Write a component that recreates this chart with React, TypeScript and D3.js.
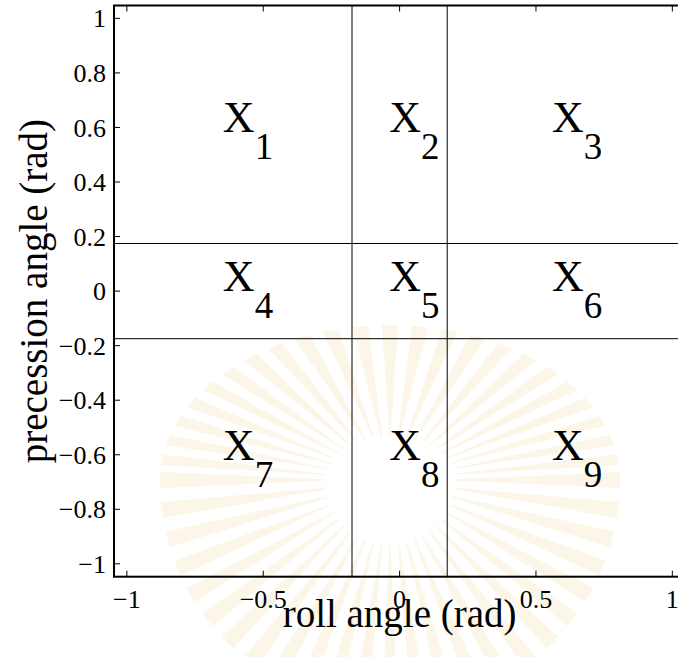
import React from 'react';
import * as d3 from 'd3';

// axis limits are +-60 deg, region borders at +-10 deg
const axisLimit = Math.PI / 3;
const borders = [-Math.PI / 18, Math.PI / 18];
const xTicks = [-1, -0.5, 0, 0.5, 1];
const yTicks = [1, 0.8, 0.6, 0.4, 0.2, 0, -0.2, -0.4, -0.6, -0.8, -1];
// region labels: left edge of the "X" and its baseline, in rad
const labelX = [-0.648, -0.038, 0.559];
const labelY = [0.583, 0.0, -0.618];
const regionNames = ['1', '2', '3', '4', '5', '6', '7', '8', '9'];

const fmt = (v: number) => (v < 0 ? '\u2212' + String(-v) : String(v));

const W = 678;
const H = 657;

export default function App() {
  const x = d3.scaleLinear().domain([-axisLimit, axisLimit]).range([114, 685.2]);
  const y = d3.scaleLinear().domain([-axisLimit, axisLimit]).range([576.7, 5.5]);
  const [x0, x1] = x.range();
  const [y0, y1] = y.range();
  const font = '"Liberation Serif", "Times New Roman", serif';
  const tick = 6;

  // faint watermark sunburst behind the plot
  const rays = d3.range(0, 360, 7.5).map(a => (a * Math.PI) / 180);
  const cx = 390, cy = 480;
  const ray = (a: number) => {
    const rx = 230, ry = Math.sin(a) < 0 ? 155 : 230;
    const r0 = 65, w = 0.035;
    const sy = ry / rx;
    const p = (ang: number, r: number) =>
      [cx + Math.cos(ang) * r, cy + Math.sin(ang) * r * sy].join(',');
    return [p(a - 0.01, r0), p(a - w, rx), p(a + w, rx), p(a + 0.01, r0)].join(' ');
  };

  return (
    <svg width={W} height={H} style={{position: 'absolute', left: 0, top: 0}} fontFamily={font}>
      <rect width={W} height={H} fill="white"/>
      <g opacity={0.14}>
        {rays.map((a, i) => (
          <polygon key={i} points={ray(a)} fill="#e8c65a"/>
        ))}
      </g>

      {/* region borders */}
      {borders.map((b, i) => (
        <line key={'v' + i} x1={x(b)} x2={x(b)} y1={y0} y2={y1} stroke="black" strokeWidth={1}/>
      ))}
      {borders.map((b, i) => (
        <line key={'h' + i} x1={x0} x2={x1} y1={y(b)} y2={y(b)} stroke="black" strokeWidth={1}/>
      ))}

      {/* box */}
      <rect x={x0} y={y1} width={x1 - x0} height={y0 - y1} fill="none" stroke="black" strokeWidth={2}/>

      {/* x ticks */}
      {xTicks.map(t => (
        <g key={'xt' + t}>
          <line x1={x(t)} x2={x(t)} y1={y0} y2={y0 - tick} stroke="black"/>
          <line x1={x(t)} x2={x(t)} y1={y1} y2={y1 + tick} stroke="black"/>
          <text x={x(t)} y={y0 + 31.5} textAnchor="middle" fontSize={26}>{fmt(t)}</text>
        </g>
      ))}

      {/* y ticks */}
      {yTicks.map(t => (
        <g key={'yt' + t}>
          <line x1={x0} x2={x0 + tick} y1={y(t)} y2={y(t)} stroke="black"/>
          <line x1={x1} x2={x1 - tick} y1={y(t)} y2={y(t)} stroke="black"/>
          <text x={x0 - 8} y={y(t)} dy="0.35em" textAnchor="end" fontSize={26}>{fmt(t)}</text>
        </g>
      ))}

      {/* region labels */}
      {regionNames.map((n, i) => {
        const col = i % 3;
        const row = Math.floor(i / 3);
        return (
          <text key={'r' + n} x={x(labelX[col])} y={y(labelY[row])} fontSize={44}>
            X<tspan dy={27} fontSize={37}>{n}</tspan>
          </text>
        );
      })}

      {/* axis titles */}
      <text x={x(0)} y={626.7} textAnchor="middle" fontSize={39}>roll angle (rad)</text>
      <text transform={`translate(46.5,${y(0)}) rotate(-90)`} textAnchor="middle" fontSize={39}>
        precession angle (rad)
      </text>
    </svg>
  );
}
